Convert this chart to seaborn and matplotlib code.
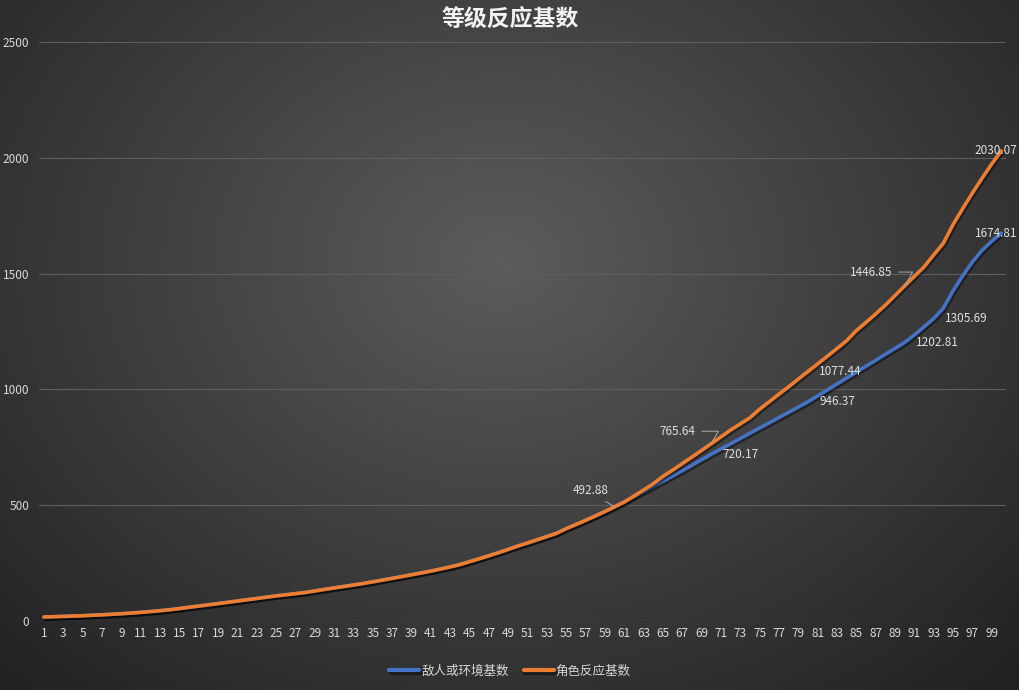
import numpy as np
import pandas as pd
import seaborn as sns
import matplotlib.pyplot as plt
import matplotlib.patheffects as pe

# 等级 1-100
levels = list(range(1, 101))

# 角色反应基数
char_base = [
    17.17, 18.54, 19.90, 21.27, 22.65, 24.65, 26.65, 28.87, 31.37, 34.14,
    37.20, 40.66, 44.45, 48.56, 53.75, 59.08, 64.42, 69.72, 75.12, 80.58,
    86.11, 91.70, 97.24, 102.81, 108.41, 113.20, 118.10, 122.98, 129.73, 136.29,
    142.67, 149.03, 155.42, 161.83, 169.11, 176.52, 184.07, 191.71, 199.56, 207.38,
    215.40, 224.17, 233.50, 243.35, 256.06, 268.54, 281.53, 295.01, 309.07, 323.60,
    336.76, 350.53, 364.48, 378.62, 398.60, 416.40, 434.39, 452.95, 472.61, 492.88,
    513.57, 539.10, 565.51, 592.54, 624.44, 651.47, 679.50, 707.79, 736.67, 765.64,
    794.77, 824.68, 851.16, 877.74, 914.23, 946.75, 979.41, 1011.22, 1044.79, 1077.44,
    1110.00, 1142.98, 1176.37, 1210.18, 1253.84, 1288.95, 1325.48, 1363.46, 1405.10, 1446.85,
    1488.22, 1528.44, 1580.37, 1630.85, 1711.20, 1780.45, 1847.32, 1911.47, 1972.86, 2030.07,
]

# 敌人或环境基数 (前 61 级与角色相同)
enemy_base = char_base[:61] + [
    536.30, 558.60, 581.00, 603.40, 626.00, 649.00, 672.50, 696.20, 720.17,
    742.80, 765.40, 788.00, 810.60, 833.20, 855.80, 878.40, 901.00, 923.60, 946.37,
    971.90, 997.50, 1023.20, 1048.80, 1074.50, 1100.10, 1125.70, 1151.40, 1177.00, 1202.81,
    1235.00, 1270.00, 1305.69, 1350.50, 1425.00, 1490.00, 1550.00, 1600.00, 1640.00, 1674.81,
]

series_names = ['敌人或环境基数', '角色反应基数']
colors = ['#4472C4', '#ED7D31']

df = pd.DataFrame({
    '等级': levels * 2,
    '基数': enemy_base + char_base,
    '类型': [series_names[0]] * 100 + [series_names[1]] * 100,
})

sns.set_theme(style='dark')
plt.rcParams['font.family'] = ['Noto Sans CJK SC', 'DejaVu Sans']

fig = plt.figure(figsize=(10.2, 6.9), dpi=100)

# 径向渐变背景
bg = fig.add_axes([0, 0, 1, 1], zorder=0)
yy, xx = np.mgrid[0:690, 0:1020]
r = np.sqrt(((xx - 500) / 700.0) ** 2 + ((yy - 260) / 560.0) ** 2)
shade = np.clip(0.36 - 0.22 * r, 0.13, 0.36)
bg.imshow(np.dstack([shade] * 3), aspect='auto', extent=[0, 1, 0, 1])
bg.axis('off')

ax = fig.add_axes([0.0384, 0.1, 0.948, 0.839], zorder=1)
ax.patch.set_alpha(0)

sns.lineplot(data=df, x='等级', y='基数', hue='类型', palette=colors,
             hue_order=series_names, linewidth=2.6, ax=ax, legend=True)
for line in ax.lines:
    line.set_path_effects([pe.SimpleLineShadow(offset=(1, -1.5), alpha=0.45, shadow_color='black'),
                           pe.Normal()])

ax.set_xlim(0.5, 100.5)
ax.set_ylim(0, 2500)
ax.set_xticks(levels[::2])
ax.set_yticks([0, 500, 1000, 1500, 2000, 2500])
ax.tick_params(axis='x', colors='#d9d9d9', labelsize=8.5, length=0, pad=4)
ax.tick_params(axis='y', colors='#d9d9d9', labelsize=8.5, length=0, pad=7)
ax.grid(axis='y', color='#5e5e5e', linewidth=0.8)
ax.grid(axis='x', visible=False)
ax.set_xlabel('')
ax.set_ylabel('')
for s in ax.spines.values():
    s.set_visible(False)
ax.axhline(0, color='#6a6a6a', linewidth=0.8, zorder=0)

lbl = dict(color='#e0e0e0', fontsize=8.5, va='center')
lead = dict(arrowstyle='-', color='#aaaaaa', lw=0.7, shrinkA=2, shrinkB=0)

# 角色反应基数标签
ax.annotate('492.88', xy=(60, char_base[59]), xytext=(-4, 12), textcoords='offset points',
            ha='right', arrowprops=dict(lead, relpos=(0.7, 0)), **lbl)
ax.annotate('765.64', xy=(70, char_base[69]), xytext=(-24, 9), textcoords='offset points',
            ha='center', arrowprops=dict(lead, connectionstyle='angle,angleA=0,angleB=60'), **lbl)
ax.annotate('1077.44', xy=(80, char_base[79]), xytext=(8, 0), textcoords='offset points', ha='left', **lbl)
ax.annotate('1446.85', xy=(90, char_base[89]), xytext=(-24, 10), textcoords='offset points',
            ha='center', arrowprops=dict(lead, connectionstyle='angle,angleA=0,angleB=60'), **lbl)
ax.annotate('2030.07', xy=(100, char_base[99]), xytext=(-4, 0), textcoords='offset points', ha='center', **lbl)

# 敌人或环境基数标签
for lv in [70, 80, 90, 93]:
    ax.annotate(f'{enemy_base[lv - 1]:.2f}', xy=(lv, enemy_base[lv - 1]), xytext=(8, 0),
                textcoords='offset points', ha='left', **lbl)
ax.annotate('1674.81', xy=(100, enemy_base[99]), xytext=(-4, 0), textcoords='offset points', ha='center', **lbl)

# 图例
handles, labels = ax.get_legend_handles_labels()
ax.legend_.remove()
leg = fig.legend(handles, labels, loc='center', bbox_to_anchor=(0.5, 0.027), ncol=2, frameon=False,
                 fontsize=9, labelcolor='#d9d9d9', handlelength=2.4, columnspacing=1.2, handletextpad=0.15)
for h in leg.legend_handles:
    h.set_linewidth(3)

fig.text(0.5, 0.971, '等级反应基数', ha='center', va='center', color='#f2f2f2',
         fontsize=16.5, fontweight='bold')

fig.savefig('out.png', dpi=100)
